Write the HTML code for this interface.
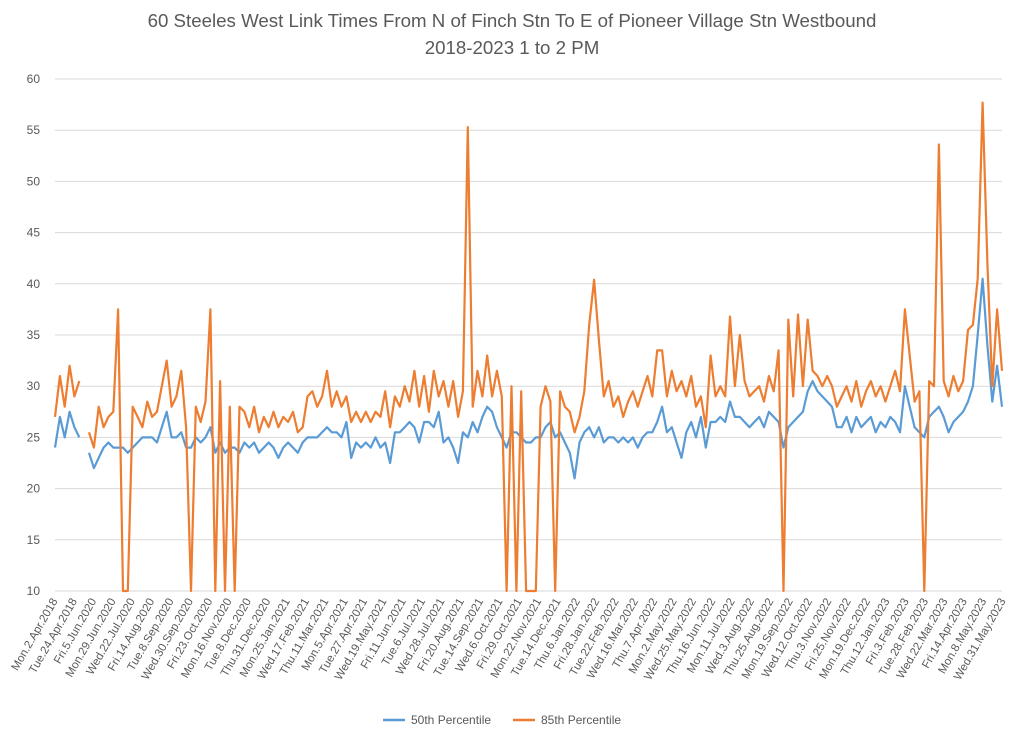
<!DOCTYPE html>
<html><head><meta charset="utf-8"><style>
body{margin:0;background:#fff;width:1024px;height:739px;overflow:hidden;font-family:"Liberation Sans",sans-serif;}
svg text{font-family:"Liberation Sans",sans-serif;fill:#595959;}
</style></head><body>
<svg id="chart" width="1024" height="739" viewBox="0 0 1024 739">
<text x="512" y="27" text-anchor="middle" font-size="18.7">60 Steeles West Link Times From N of Finch Stn To E of Pioneer Village Stn Westbound</text>
<text x="512" y="54" text-anchor="middle" font-size="18.7">2018-2023 1 to 2 PM</text>
<g id="grid"></g>
<g id="yticks"></g>
<g id="xticks"></g>
<g id="series"></g>
<g>
<g><line x1="383" y1="720" x2="405" y2="720" stroke="#5b9bd5" stroke-width="2.5"/><text x="411" y="724" font-size="12">50th Percentile</text></g>
<g><line x1="513" y1="720" x2="535" y2="720" stroke="#ed7d31" stroke-width="2.5"/><text x="541" y="724" font-size="12">85th Percentile</text></g>
</g>
</svg>
<script>
const categories=["Mon.2.Apr.2018","Tue.24.Apr.2018","Fri.5.Jun.2020","Mon.29.Jun.2020","Wed.22.Jul.2020","Fri.14.Aug.2020","Tue.8.Sep.2020","Wed.30.Sep.2020","Fri.23.Oct.2020","Mon.16.Nov.2020","Tue.8.Dec.2020","Thu.31.Dec.2020","Mon.25.Jan.2021","Wed.17.Feb.2021","Thu.11.Mar.2021","Mon.5.Apr.2021","Tue.27.Apr.2021","Wed.19.May.2021","Fri.11.Jun.2021","Tue.6.Jul.2021","Wed.28.Jul.2021","Fri.20.Aug.2021","Tue.14.Sep.2021","Wed.6.Oct.2021","Fri.29.Oct.2021","Mon.22.Nov.2021","Tue.14.Dec.2021","Thu.6.Jan.2022","Fri.28.Jan.2022","Tue.22.Feb.2022","Wed.16.Mar.2022","Thu.7.Apr.2022","Mon.2.May.2022","Wed.25.May.2022","Thu.16.Jun.2022","Mon.11.Jul.2022","Wed.3.Aug.2022","Thu.25.Aug.2022","Mon.19.Sep.2022","Wed.12.Oct.2022","Thu.3.Nov.2022","Fri.25.Nov.2022","Mon.19.Dec.2022","Thu.12.Jan.2023","Fri.3.Feb.2023","Tue.28.Feb.2023","Wed.22.Mar.2023","Fri.14.Apr.2023","Mon.8.May.2023","Wed.31.May.2023"];
const yTicks=[10,15,20,25,30,35,40,45,50,55,60];
const p50=[24,27,25,27.5,26,25,null,23.5,22,23,24,24.5,24,24,24,23.5,24,24.5,25,25,25,24.5,26,27.5,25,25,25.5,24,24,25,24.5,25,26,23.5,24.5,23.5,24,24,23.5,24.5,24,24.5,23.5,24,24.5,24,23,24,24.5,24,23.5,24.5,25,25,25,25.5,26,25.5,25.5,25,26.5,23,24.5,24,24.5,24,25,24,24.5,22.5,25.5,25.5,26,26.5,26,24.5,26.5,26.5,26,27.5,24.5,25,24,22.5,25.5,25,26.5,25.5,27,28,27.5,26,25,24,25.5,25.5,25,24.5,24.5,25,25,26,26.5,25,25.5,24.5,23.5,21,24.5,25.5,26,25,26,24.5,25,25,24.5,25,24.5,25,24,25,25.5,25.5,26.5,28,25.5,26,24.5,23,25.5,26.5,25,27,24,26.5,26.5,27,26.5,28.5,27,27,26.5,26,26.5,27,26,27.5,27,26.5,24,26,26.5,27,27.5,29.5,30.5,29.5,29,28.5,28,26,26,27,25.5,27,26,26.5,27,25.5,26.5,26,27,26.5,25.5,30,28,26,25.5,25,27,27.5,28,27,25.5,26.5,27,27.5,28.5,30,35,40.5,34,28.5,32,28];
const p85=[27,31,28,32,29,30.5,null,25.5,24,28,26,27,27.5,37.5,10,10,28,27,26,28.5,27,27.5,30,32.5,28,29,31.5,26,10,28,26.5,28.5,37.5,10,30.5,10,28,10,28,27.5,26,28,25.5,27,26,27.5,26,27,26.5,27.5,25.5,26,29,29.5,28,29,31.5,28,29.5,28,29,26.5,27.5,26.5,27.5,26.5,27.5,27,29.5,26,29,28,30,28.5,31.5,28,31,27.5,31.5,29,30.5,28,30.5,27,29.5,55.3,28,31.5,29,33,29,31.5,29,10,30,10,29.5,10,10,10,28,30,28.5,10,29.5,28,27.5,25.5,27,29.5,36,40.4,34.5,29,30.5,28,29,27,28.5,29.5,28,29.5,31,29,33.5,33.5,29,31.5,29.5,30.5,29,31,28,29,26,33,29,30,29,36.8,30,35,30.5,29,29.5,30,28.5,31,29.5,33.5,10,36.5,29,37,30,36.5,31.5,31,30,31,30,28,29,30,28.5,30.5,28,29.5,30.5,29,30,28.5,30,31.5,29.5,37.5,33,28.5,29.5,10,30.5,30,53.6,30.5,29,31,29.5,30.5,35.5,36,40.5,57.7,42,30,37.5,31.5];

const NS="http://www.w3.org/2000/svg";
const X0=55,X1=1002,Y0=591,Y1=79,VMIN=10,VMAX=60;
function yScale(v){return Y0-(v-VMIN)/(VMAX-VMIN)*(Y0-Y1);}
function xIdx(i,n){return X0+i*(X1-X0)/(n-1);}
function xCat(i){return X0+i*(X1+1-X0)/(categories.length-1);}
const grid=document.getElementById('grid'),yt=document.getElementById('yticks'),xt=document.getElementById('xticks'),ser=document.getElementById('series');
yTicks.forEach(v=>{
  const l=document.createElementNS(NS,'line');
  
  
  l.setAttribute('x1',X0);l.setAttribute('x2',X1);l.setAttribute('y1',yScale(v));l.setAttribute('y2',yScale(v));
  l.setAttribute('stroke','#d9d9d9');l.setAttribute('stroke-width','1');
  grid.appendChild(l);
  const t=document.createElementNS(NS,'text');
  
  
  t.setAttribute('x',40);t.setAttribute('y',yScale(v)+4);t.setAttribute('text-anchor','end');t.setAttribute('font-size','12');
  t.textContent=v;yt.appendChild(t);
});
categories.forEach((c,i)=>{
  const t=document.createElementNS(NS,'text');
  
  
  const x=xCat(i)+3,y=601;
  t.setAttribute('x',x);t.setAttribute('y',y);t.setAttribute('text-anchor','end');t.setAttribute('font-size','11.5');
  t.setAttribute('transform','rotate(-60 '+x+' '+y+')');
  t.textContent=c;xt.appendChild(t);
});
function drawLine(data,color,name){
  let d='',pen=false;
  data.forEach((v,i)=>{
    if(v===null){pen=false;return;}
    d+=(pen?'L':'M')+xIdx(i,data.length).toFixed(1)+' '+yScale(v).toFixed(1)+' ';pen=true;
  });
  const p=document.createElementNS(NS,'path');
  
  
  p.setAttribute('d',d);p.setAttribute('fill','none');p.setAttribute('stroke',color);
  p.setAttribute('stroke-width','2.2');p.setAttribute('stroke-linejoin','round');
  ser.appendChild(p);
}
drawLine(p50,'#5b9bd5','series-50th-percentile');
drawLine(p85,'#ed7d31','series-85th-percentile');
</script>
</body></html>
